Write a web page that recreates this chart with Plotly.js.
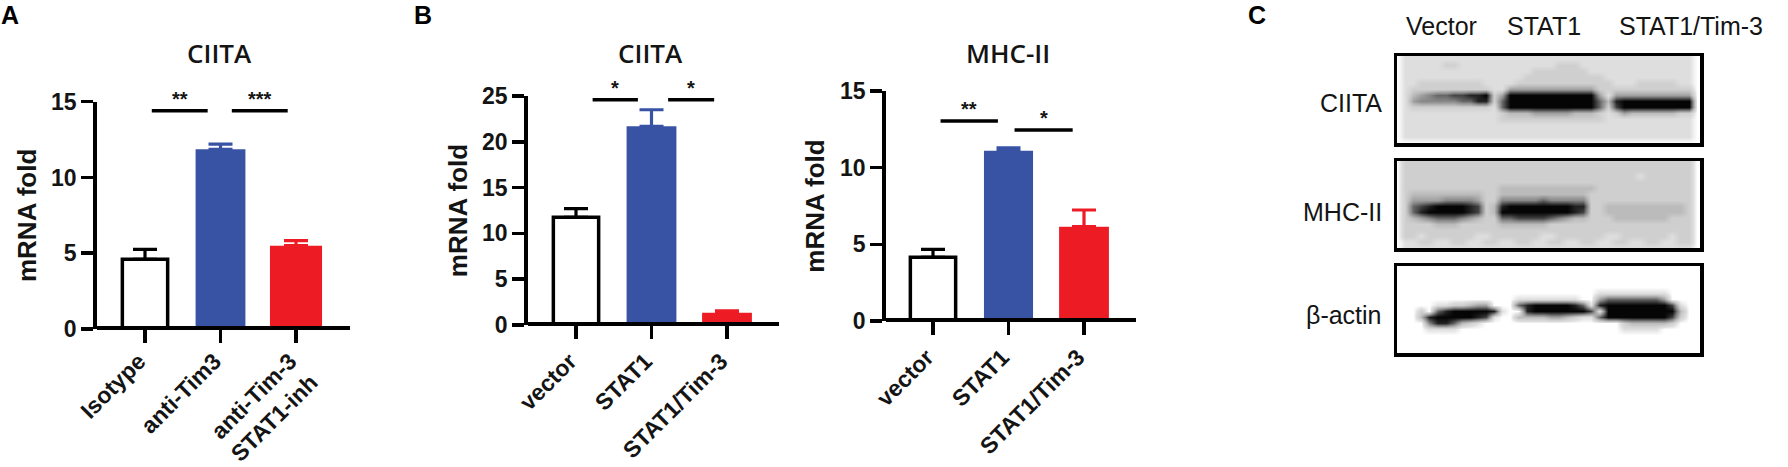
<!DOCTYPE html>
<html>
<head>
<meta charset="utf-8">
<script src="https://cdn.plot.ly/plotly-3.0.1.min.js"></script>
<style>html,body{margin:0;padding:0;background:#fff;overflow:hidden}#chart{width:1788px;height:467px}</style>
</head>
<body>
<div id="chart"></div>
<script>
// ---- chart data ----
const categoriesA = ['Isotype', 'anti-Tim3', 'anti-Tim-3<br>STAT1-inh'];
const valuesA = [4.6, 11.86, 5.5];
const errorsA = [0.66, 0.34, 0.33];
const ticksA = [0, 5, 10, 15];

const categoriesB1 = ['vector', 'STAT1', 'STAT1/Tim-3'];
const valuesB1 = [11.75, 21.7, 1.34];
const errorsB1 = [0.95, 1.8, 0.2];
const ticksB1 = [0, 5, 10, 15, 20, 25];

const categoriesB2 = ['vector', 'STAT1', 'STAT1/Tim-3'];
const valuesB2 = [4.15, 11.1, 6.15];
const errorsB2 = [0.52, 0.2, 1.09];
const ticksB2 = [0, 5, 10, 15];

// significance: [from category position, to category position, level, stars]
const sigA = [[0.09, 0.83, 14.4, '**'], [1.15, 1.89, 14.4, '***']];
const sigB1 = [[0.22, 0.82, 24.6, '*'], [1.22, 1.83, 24.6, '*']];
const sigB2 = [[0.10, 0.86, 13.05, '**'], [1.08, 1.85, 12.45, '*']];

const laneLabels = ['Vector', 'STAT1', 'STAT1/Tim-3'];
const blotLabels = ['CIITA', 'MHC-II', '\u03b2-actin'];

// blot densities, 0 = black band ... 9 = white
const blotCIITA = [
"98888888888888888888888888888888888889",
"98888877888888888888777888888888888889",
"98888888888888888777777788888888888889",
"98888888888888887777777777888888888889",
"98877777777888877777777777788877777889",
"98777777777788555555555557777777777779",
"98654332211075000000000005855555555559",
"98544444331173000000000003610000000009",
"98777777777783000000000003720000000009",
"98888888888887666555556667875666666779",
"98888888888887777777777777888888888889",
"98888888888888888888888888888888888889",
"98888888888888888888888888888888888889",
"98888888888888888888888888888888888889",
"99999999999999999999999999999999999999"
];
const blotMHC = [
"97777777777777777777777777777777777779",
"97777777777777777777777777777777777779",
"97777777777777777777777777777787777779",
"97777777777777777777777777777777777779",
"97777777777776666666666667777777777779",
"97666666666776666666666677777777777779",
"97555544445774444434444477777777777779",
"97321000012761000000001177666666666679",
"97310000012760000000001277666666666679",
"97654333456773322223456677766666667779",
"97777666777776666667777777777777777779",
"97777777777777777777777777777777777779",
"97787777778877777788777777887777778779",
"98877887788778877887788778877887788779",
"98888888888888888888888888888888888889"
];
const blotActin = [
"99999999999999999999999999999999999999",
"99999999999999999999999999999999999999",
"99999999999999999999999999999999999999",
"99999999999999999999999999999999999999",
"99999999999999999999999998888888889999",
"99999999999999988888888995333333359999",
"99999887765599931000001381000000002899",
"99979310000018991000000028000000000699",
"99961000001289966665567883000000002799",
"99994113678999999999999999997666667999",
"99998888999999999999999999998888899999",
"99999999999999999999999999999999999999",
"99999999999999999999999999999999999999",
"99999999999999999999999999999999999999",
"99999999999999999999999999999999999999"
];

// ---- styles and layout ----
const W = 1788, H = 467;
const fx = p => p / W, fy = p => 1 - p / H;
const FONT = 'Liberation Sans, Arial, sans-serif';
const TITLE_FONT = 'Open Sans, Liberation Sans, sans-serif';
const INK = '#141414', BLUE = '#3953A4', RED = '#ED1C24';
const LINE = 3.5;

const panels = [
  {id:'', cats:categoriesA, vals:valuesA, errs:errorsA, ticks:ticksA, sig:sigA, yMax:15,
   left:96.75, right:350, top:101.7, base:329, t0:145, dt:75.5, widths:[0.6,0.66,0.69],
   title:'CIITA', titleX:219, titleY:53, standoff:8, labelGap:-4},
  {id:'2', cats:categoriesB1, vals:valuesB1, errs:errorsB1, ticks:ticksB1, sig:sigB1, yMax:25,
   left:527.75, right:779, top:96, base:325, t0:576, dt:75.5, widths:[0.6,0.66,0.66],
   title:'CIITA', titleX:650, titleY:53, standoff:8, labelGap:0},
  {id:'3', cats:categoriesB2, vals:valuesB2, errs:errorsB2, ticks:ticksB2, sig:sigB2, yMax:15,
   left:885.75, right:1136, top:91, base:321, t0:933, dt:75.5, widths:[0.6,0.65,0.66],
   title:'MHC-II', titleX:1008, titleY:53, standoff:9, labelGap:0}
];

const traces = [], annotations = [], shapes = [];
const layout = {
  width:W, height:H, margin:{l:0,r:0,t:0,b:0}, paper_bgcolor:'#fff', plot_bgcolor:'rgba(0,0,0,0)',
  showlegend:false, barmode:'overlay', font:{family:FONT, color:INK}
};

const textNote = (text, x, y, size, opts={}) => annotations.push(Object.assign({
  text, x:fx(x), y:fy(y), xref:'paper', yref:'paper', showarrow:false,
  xanchor:'center', yanchor:'middle', font:{family:FONT, size, color:INK}
}, opts));

panels.forEach(p => {
  const xa = 'x'+p.id, ya = 'y'+p.id;
  const fill = ['#ffffff', BLUE, RED], edge = ['#000000', BLUE, RED], cap = ['#000000', BLUE, RED];
  p.cats.forEach((c,i) => {
    traces.push({
      type:'bar', x:[i], y:[p.vals[i]], width:p.widths[i], xaxis:xa, yaxis:ya, cliponaxis:false,
      marker:{color:fill[i], line:{color:edge[i], width:i===0?LINE:0}},
      error_y:{type:'data', symmetric:false, array:[p.errs[i]], arrayminus:[0], color:cap[i], thickness:3.2, width:12},
      hoverinfo:'skip'
    });
  });
  layout['xaxis'+p.id] = {
    domain:[fx(p.left), fx(p.right)], anchor:'free', position:fy(p.base - LINE/2), layer:'above traces',
    range:[(p.left-p.t0)/p.dt, (p.right-p.t0)/p.dt],
    tickmode:'array', tickvals:[0,1,2], ticktext:p.cats, tickangle:-45, ticklabelshift:-6, ticklabelstandoff:p.labelGap,
    ticks:'outside', ticklen:13, tickwidth:LINE, tickcolor:'#000',
    showline:true, linewidth:LINE, linecolor:'#000', showgrid:false, zeroline:false,
    tickfont:{family:FONT, size:23, weight:'bold', color:INK}
  };
  layout['yaxis'+p.id] = {
    domain:[fy(p.base), fy(p.top)], anchor:xa, range:[0,p.yMax],
    tickmode:'array', tickvals:p.ticks, ticks:'outside', ticklen:12, tickwidth:LINE, tickcolor:'#000',
    showline:true, linewidth:LINE, linecolor:'#000', showgrid:false, zeroline:false,
    tickfont:{family:FONT, size:23, weight:'bold', color:INK},
    title:{text:'mRNA fold', standoff:p.standoff, font:{family:FONT, size:26, weight:'bold', color:INK}}
  };
  textNote(p.title, p.titleX, p.titleY, 26, {font:{family:TITLE_FONT, size:26, weight:600, color:INK}});
  p.sig.forEach(s => {
    shapes.push({type:'line', xref:xa, yref:ya, x0:s[0], x1:s[1], y0:s[2], y1:s[2], line:{color:'#000', width:3.5}});
    annotations.push({text:s[3], xref:xa, yref:ya, x:(s[0]+s[1])/2, y:s[2], showarrow:false,
      xanchor:'center', yanchor:'bottom', yshift:-1, font:{family:FONT, size:20, weight:'bold', color:INK}});
  });
});

// western blots
const grayLevels = ['#050505','#222222','#444444','#666666','#888888','#a0a0a0','#bbbbbb','#cfcfcf','#dedede','#ffffff'];
const grayScale = grayLevels.map((c,i) => [i/9, c]);
const blots = [
  {rows:blotCIITA, top:56, bottom:143},
  {rows:blotMHC, top:161, bottom:248},
  {rows:blotActin, top:266, bottom:353}
];
const blotL = 1397, blotR = 1700;
blots.forEach((b,k) => {
  const n = k+4, xa='x'+n, ya='y'+n;
  traces.push({
    type:'heatmap', xaxis:xa, yaxis:ya, x0:0, dx:8.1, y0:3, dy:6,
    z:b.rows.map(r => r.split('').map(Number)), zmin:0, zmax:9, zsmooth:'best',
    colorscale:grayScale, showscale:false, hoverinfo:'skip'
  });
  const frame = {showline:true, mirror:true, linewidth:3.5, linecolor:'#000', showgrid:false, zeroline:false,
                 showticklabels:false, ticks:''};
  layout['xaxis'+n] = Object.assign({domain:[fx(blotL),fx(blotR)], anchor:ya, range:[0,blotR-blotL]}, frame);
  layout['yaxis'+n] = Object.assign({domain:[fy(b.bottom),fy(b.top)], anchor:xa, range:[b.bottom-b.top,0]}, frame);
});

const laneX = [1441, 1544, 1691];
laneLabels.forEach((t,i) => textNote(t, laneX[i], 26, 25));
const blotLabelY = [103, 212, 315];
blotLabels.forEach((t,i) => textNote(t, 1384, blotLabelY[i], 25, {xanchor:'right'}));

const letterFont = {family:FONT, size:25, weight:'bold', color:'#000'};
[['A',10,15],['B',423,15],['C',1257,15]].forEach(l => textNote(l[0], l[1], l[2], 25, {font:letterFont}));

layout.annotations = annotations;
layout.shapes = shapes;
Plotly.newPlot('chart', traces, layout, {displayModeBar:false, staticPlot:true});
</script>
</body>
</html>
